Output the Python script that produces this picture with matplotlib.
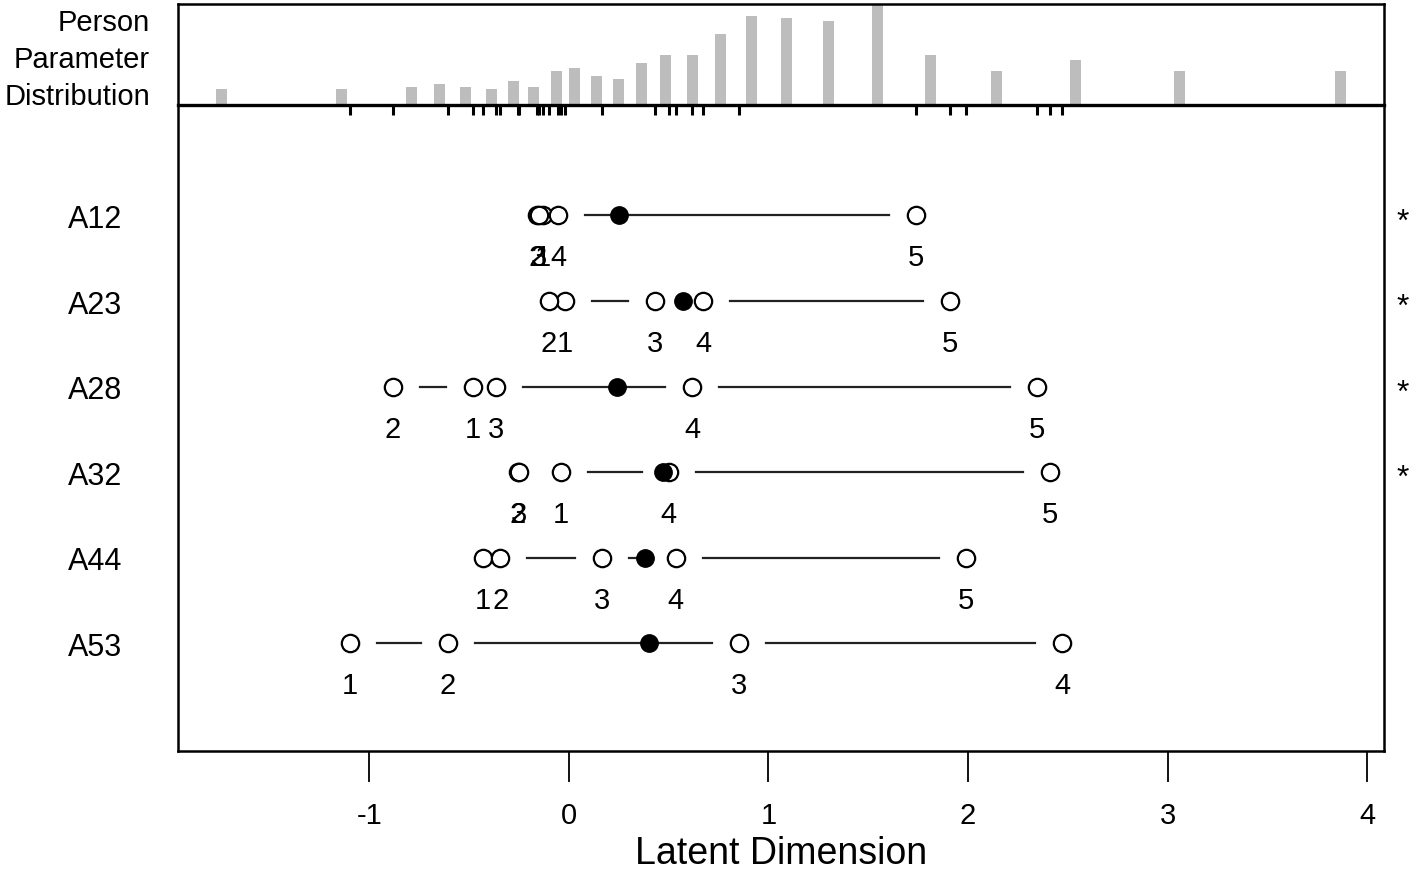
import matplotlib
matplotlib.use("Agg")
import matplotlib.pyplot as plt

plt.rcParams['font.family'] = ['Liberation Sans', 'DejaVu Sans']

# person parameter distribution (top panel)
person_loc = [-1.74, -1.14, -0.79, -0.65, -0.52, -0.39, -0.28, -0.18, -0.065, 0.03,
              0.14, 0.25, 0.365, 0.485, 0.62, 0.76, 0.915, 1.09, 1.30, 1.545,
              1.81, 2.145, 2.54, 3.06, 3.865]
person_freq = [6, 6, 7, 8, 7, 6, 9, 7, 13, 14, 11, 10, 16, 19, 19, 27, 34, 33, 32, 38,
               19, 13, 17, 13, 13]

# items, top to bottom
items = ["A12", "A23", "A28", "A32", "A44", "A53"]
thresholds = [
    [-0.13, -0.16, -0.15, -0.055, 1.74],
    [-0.02, -0.10, 0.431, 0.672, 1.91],
    [-0.481, -0.882, -0.366, 0.617, 2.346],
    [-0.04, -0.255, -0.25, 0.50, 2.41],
    [-0.43, -0.345, 0.165, 0.536, 1.99],
    [-1.098, -0.607, 0.852, 2.471],
]
locations = [0.25, 0.571, 0.241, 0.47, 0.38, 0.40]
disordered = [True, True, True, True, False, False]
xticks = [-1, 0, 1, 2, 3, 4]

fig = plt.figure(figsize=(14.18, 8.7), dpi=100)
ax = fig.add_axes([0.1255, 0.1356, 0.8505, 0.7424])
axh = fig.add_axes([0.1255, 0.878, 0.8505, 0.1163])

xlim = (-1.96, 4.085)
gap = 0.135
n = len(items)
for i, (name, thr, loc) in enumerate(zip(items, thresholds, locations)):
    y = n - i
    s = sorted(thr)
    # lines between thresholds, broken round each point
    for a, b in zip(s[:-1], s[1:]):
        if b - a > 2 * gap:
            ax.plot([a + gap, b - gap], [y, y], color='#222222', lw=1.6, zorder=1)
    ax.plot(thr, [y] * len(thr), 'o', ms=12.5, mfc='white', mec='black', mew=1.6, zorder=3)
    ax.plot([loc], [y], 'o', ms=12.5, color='black', zorder=4)
    for k, t in enumerate(thr):
        ax.text(t, y - 0.49, str(k + 1), ha='center', va='center', fontsize=21)
    if disordered[i]:
        ax.text(1.0155, y - 0.07, '*', transform=ax.get_yaxis_transform(),
                ha='center', va='center', fontsize=23, clip_on=False)

ax.set_xlim(xlim)
ax.set_ylim(-0.26, 7.29)
ax.set_yticks(range(n, 0, -1))
ax.set_yticklabels(items, fontsize=22)
ax.tick_params(axis='y', length=0, pad=40)
ax.set_xticks(xticks)
ax.set_xticklabels([str(v) for v in xticks], fontsize=21)
ax.tick_params(axis='x', length=22, width=1.3, pad=14)
ax.set_xlabel('Latent Dimension', fontsize=27, labelpad=4)
for sp in ax.spines.values():
    sp.set_linewidth(1.8)

axh.bar(person_loc, person_freq, width=0.055, color='#bdbdbd', zorder=1)
axh.set_xlim(xlim)
axh.set_ylim(0, 38.4)
axh.set_yticks([])
all_thr = sorted(t for thr in thresholds for t in thr)
axh.set_xticks(all_thr)
axh.tick_params(axis='x', direction='out', length=7, width=2.2, labelbottom=False)
for sp in axh.spines.values():
    sp.set_linewidth(1.8)
axh.spines['bottom'].set_linewidth(2.4)

fig.text(150 / 1418, (870 - 60) / 870, 'Person\nParameter\nDistribution', ha='right',
         va='center', fontsize=21, linespacing=1.4)

fig.savefig('out.png', dpi=100)
